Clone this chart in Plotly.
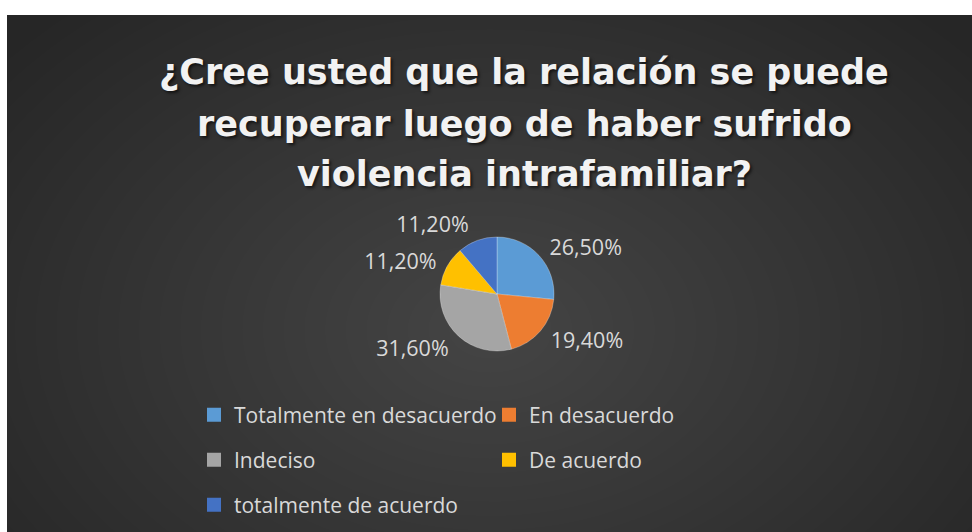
import plotly.graph_objects as go

# ---- data ----
categories = ["Totalmente en desacuerdo", "En desacuerdo", "Indeciso", "De acuerdo", "totalmente de acuerdo"]
values = [26.5, 19.4, 31.6, 11.2, 11.2]
value_labels = ["26,50%", "19,40%", "31,60%", "11,20%", "11,20%"]
colors = ["#5B9BD5", "#ED7D31", "#A5A5A5", "#FFC000", "#4472C4"]
legend_rows = ["legend", "legend", "legend2", "legend2", "legend3"]
title_lines = ["¿Cree usted que la relación se puede",
               "recuperar luego de haber sufrido",
               "violencia intrafamiliar?"]

W, H = 972, 532


def fx(x):
    return x / W


def fy(y):
    return 1 - y / H


PIE_CX, PIE_CY, PIE_R, LABEL_R = 497, 294, 57, 61

fig = go.Figure()
fig.add_trace(go.Pie(
    labels=categories, values=values, sort=False, direction="clockwise", rotation=0,
    marker=dict(colors=colors, line=dict(color="rgba(255,255,255,0.4)", width=0.7)),
    textinfo="none", hoverinfo="label+percent",
    domain=dict(x=[fx(PIE_CX - PIE_R), fx(PIE_CX + PIE_R)], y=[fy(PIE_CY + PIE_R), fy(PIE_CY - PIE_R)]),
    showlegend=False,
))
fig.add_trace(go.Pie(
    labels=categories, values=values, sort=False, direction="clockwise", rotation=0,
    marker=dict(colors=["rgba(0,0,0,0)"] * len(values), line=dict(width=0)),
    text=value_labels, texttemplate="%{text}", textposition="outside",
    outsidetextfont=dict(family="Open Sans", size=21.5, color="#d9d9d9"),
    hoverinfo="skip", showlegend=False,
    domain=dict(x=[fx(PIE_CX - LABEL_R), fx(PIE_CX + LABEL_R)], y=[fy(PIE_CY + LABEL_R), fy(PIE_CY - LABEL_R)]),
))
# legend entries (one legend per row, as in the original two-column layout)
for cat, col, lg in zip(categories, colors, legend_rows):
    fig.add_trace(go.Scatter(
        x=[None], y=[None], mode="markers", name=cat, legend=lg,
        marker=dict(symbol="square", size=14, color=col, line=dict(width=0)),
        hoverinfo="skip", showlegend=True,
    ))

shapes = [dict(type="rect", xref="paper", yref="paper", x0=fx(7), x1=1.0, y0=0, y1=fy(15),
               fillcolor="#262626", line=dict(width=0), layer="below")]
# radial gradient: concentric translucent ellipses
cx, cy = 490, 330
N = 30
for i in range(N):
    f = 1 - i / N
    rx, ry = 620 * f, 430 * f
    shapes.append(dict(type="circle", xref="paper", yref="paper",
                       x0=fx(cx - rx), x1=fx(cx + rx), y0=fy(cy + ry), y1=fy(cy - ry),
                       fillcolor="rgba(255,255,255,0.0085)", line=dict(width=0), layer="below"))
# white page margins (top and left)
shapes.append(dict(type="rect", xref="paper", yref="paper", x0=0, x1=1, y0=fy(15), y1=1,
                   fillcolor="white", line=dict(width=0), layer="below"))
shapes.append(dict(type="rect", xref="paper", yref="paper", x0=0, x1=fx(7), y0=0, y1=1,
                   fillcolor="white", line=dict(width=0), layer="below"))

title_centers = [72.5, 124, 173.5]
annotations = [dict(text=t, x=fx(524), y=fy(yc), xref="paper", yref="paper",
                    xanchor="center", yanchor="middle", showarrow=False,
                    font=dict(family="DejaVu Sans", size=35, color="#f2f2f2", weight="bold",
                              shadow="2px 2px 3px rgba(0,0,0,0.6)"))
               for t, yc in zip(title_lines, title_centers)]

legend_style = dict(orientation="h", xanchor="left", yanchor="middle",
                    entrywidth=250, entrywidthmode="pixels",
                    font=dict(family="Open Sans", size=21, color="#d9d9d9"),
                    bgcolor="rgba(0,0,0,0)", borderwidth=0, traceorder="normal")

fig.update_layout(
    width=W, height=H,
    margin=dict(l=0, r=0, t=0, b=0),
    paper_bgcolor="white", plot_bgcolor="rgba(0,0,0,0)",
    xaxis=dict(visible=False), yaxis=dict(visible=False),
    shapes=shapes, annotations=annotations,
    legend=dict(legend_style, x=fx(194), y=fy(415)),
    legend2=dict(legend_style, x=fx(194), y=fy(460)),
    legend3=dict(legend_style, x=fx(194), y=fy(505)),
)

fig.write_html("out.html", config={"displayModeBar": False},
               post_script="document.body.style.margin='0';document.body.style.overflow='hidden';")
